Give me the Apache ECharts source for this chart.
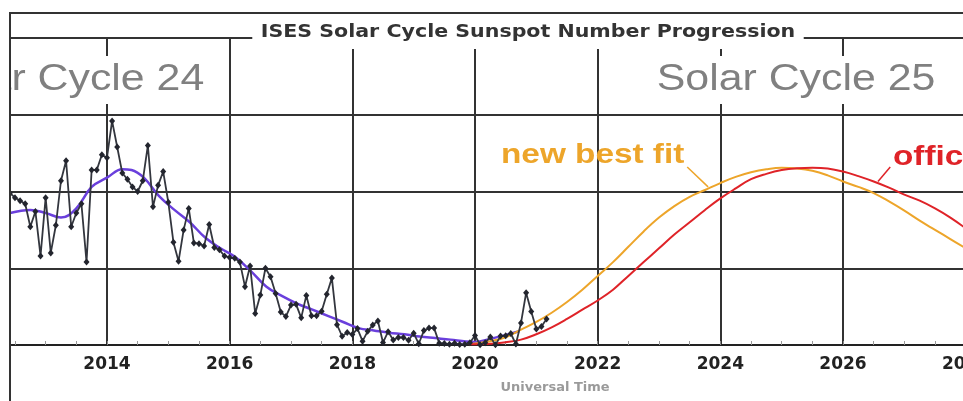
<!DOCTYPE html>
<html>
<head>
<meta charset="utf-8">
<title>ISES Solar Cycle Sunspot Number Progression</title>
<script src="https://cdn.jsdelivr.net/npm/echarts@6/dist/echarts.min.js"></script>
<style>
  html, body { margin: 0; padding: 0; background: #fff; }
  #chart { width: 963px; height: 401px; }
</style>
</head>
<body>
<div id="chart"></div>
<script>
// monthly mean sunspot number, one value per month starting June 2012
const monthlyStart = 2012 + 5 / 12
const monthlySSN = [
    99, 96, 94, 92, 77, 87, 58, // 2012 Jun-Dec
    96, 60, 78, 107, 120, 77, 86, 92, 54, 114, 114, 124, // 2013
    122, 146, 129, 112, 108, 103, 100, 107, 130, 90, 104, 113, // 2014
    93, 67, 54.5, 75, 89, 66.5, 66, 64.5, 78.5, 63.5, 62, 58, // 2015
    57, 56.5, 54, 38, 51.5, 20.5, 32.5, 50, 44.5, 33.5, 21.5, 18.5, // 2016
    26, 26.5, 17.7, 32.3, 19, 19, 22, 33, 43.6, 13.2, 5.7, 8.2, // 2017
    6.8, 10.7, 2.5, 8.9, 13.1, 15.6, 1.6, 8.7, 3.3, 4.9, 4.9, 3.1, // 2018
    7.7, 0.8, 9.4, 11, 11, 1.2, 0.9, 0.5, 1.1, 0.4, 0.5, 1.5, // 2019
    6.2, 0.2, 1.5, 5.2, 0.2, 5.8, 6.1, 7.5, 0.6, 14.4, 34, 21.8, // 2020
    10.4, 12, 17 // 2021 Jan-Mar
]

// 13-month smoothed sunspot number
const smoothYears = [2012.42, 2012.75, 2013.0, 2013.25, 2013.5, 2013.75, 2014.0, 2014.25, 2014.4, 2014.6,
    2014.85, 2015.1, 2015.35, 2015.6, 2015.85, 2016.1, 2016.35, 2016.6, 2016.85, 2017.1, 2017.35, 2017.6,
    2017.85, 2018.1, 2018.35, 2018.6, 2018.85, 2019.1, 2019.35, 2019.6, 2019.85, 2020.0, 2020.25, 2020.5, 2020.72]
const smoothSSN = [86, 88, 86, 83, 89, 103, 109, 114.5, 114, 109,
    97, 88, 80, 70, 63, 57, 48, 38, 32, 27, 23, 19,
    15, 11, 9.5, 8, 7, 5.5, 4.5, 3.5, 2.3, 2, 4, 6.5, 9]

// Cycle 25 predictions (quarter-year points)
const predYears = [2019.9, 2020.25, 2020.5, 2020.75, 2021.0, 2021.25, 2021.5, 2021.75, 2022.0, 2022.25, 2022.5,
    2022.75, 2023.0, 2023.25, 2023.5, 2023.75, 2024.0, 2024.25, 2024.5, 2024.75, 2025.0, 2025.25, 2025.5,
    2025.75, 2026.0, 2026.25, 2026.5, 2026.75, 2027.0, 2027.25, 2027.5, 2027.75, 2028.0]
const bestFit = [0.5, 2.5, 5, 10, 15, 21, 28, 36, 45, 54, 64,
    74, 83, 90.5, 96.5, 101, 105.5, 109.5, 112.5, 114.5, 115.5, 115, 113.5,
    110.5, 106.5, 103, 99, 93.5, 87.5, 81, 75, 69, 63]
const official = [0.5, 0.8, 1.8, 3.5, 7, 11.5, 17, 23, 29, 36, 45,
    54, 63, 72, 80, 88, 95.5, 102, 108, 111.5, 114, 115.2, 115.5,
    115, 113, 110, 106.5, 102.5, 98, 94, 89, 83, 76]

const xTicks = [2012, 2028, 2]
const yTicks = [0, 200, 50]

const chart = echarts.init(document.getElementById('chart'))

const monthlyData = monthlySSN.map((v, i) => [monthlyStart + i / 12, v])
const smoothData = smoothYears.map((y, i) => [y, smoothSSN[i]])
const fitData = predYears.map((y, i) => [y, bestFit[i]])
const officialData = predYears.map((y, i) => [y, official[i]])

const gridColor = '#333'
const orange = '#eda52a'
const red = '#df2328'
const purple = '#6a3fdc'

const option = {
    backgroundColor: '#fff',
    animation: false,
    grid: {
        left: -15.7,
        right: -2.7,
        top: 38,
        bottom: 56,
        containLabel: false,
        outerBoundsMode: 'none'
    },
    xAxis: {
        type: 'value',
        min: xTicks[0],
        max: xTicks[1],
        interval: xTicks[2],
        axisLine: { show: true, onZero: false, lineStyle: { color: '#222', width: 2 } },
        axisTick: { show: true, inside: true, length: 4, lineStyle: { color: '#888' } },
        minorTick: { show: true, splitNumber: 4, length: 4, lineStyle: { color: '#999' } },
        splitLine: { show: true, lineStyle: { color: gridColor, width: 2 } },
        axisLabel: {
            show: true,
            margin: 11,
            color: '#222',
            fontSize: 17,
            fontWeight: 'bold',
            fontFamily: 'DejaVu Sans',
            showMinLabel: true,
            showMaxLabel: true,
            formatter: v => String(v)
        }
    },
    yAxis: {
        type: 'value',
        min: yTicks[0],
        max: yTicks[1],
        interval: yTicks[2],
        axisLine: { show: false },
        axisTick: { show: false },
        axisLabel: { show: false },
        splitLine: { show: true, lineStyle: { color: gridColor, width: 2 } }
    },
    series: [
        {
            name: 'smoothed',
            type: 'line',
            data: smoothData,
            smooth: 0.4,
            showSymbol: false,
            lineStyle: { color: purple, width: 2.5 },
            z: 3
        },
        {
            name: 'new best fit',
            type: 'line',
            data: fitData,
            smooth: 0.4,
            showSymbol: false,
            lineStyle: { color: orange, width: 2 },
            z: 4,
            markLine: {
                silent: true,
                symbol: 'none',
                label: { show: false },
                lineStyle: { color: orange, width: 1.5, type: 'solid' },
                data: [[{ coord: [2023.46, 116] }, { coord: [2023.8, 103] }]]
            }
        },
        {
            name: 'official',
            type: 'line',
            data: officialData,
            smooth: 0.4,
            showSymbol: false,
            lineStyle: { color: red, width: 2 },
            z: 4,
            markLine: {
                silent: true,
                symbol: 'none',
                label: { show: false },
                lineStyle: { color: red, width: 1.5, type: 'solid' },
                data: [[{ coord: [2026.77, 116] }, { coord: [2026.57, 106.5] }]]
            }
        },
        {
            name: 'monthly',
            type: 'line',
            data: monthlyData,
            symbol: 'diamond',
            symbolSize: [6, 7],
            itemStyle: { color: '#23252e' },
            lineStyle: { color: '#33363e', width: 1.8 },
            z: 5
        }
    ],
    graphic: [
        {
            type: 'text',
            z: 100,
            x: 528,
            y: 33,
            scaleX: 1.21,
            style: {
                text: 'ISES Solar Cycle Sunspot Number Progression',
                font: 'bold 17px DejaVu Sans',
                fill: '#333',
                align: 'center',
                verticalAlign: 'middle',
                backgroundColor: '#fff',
                padding: [6, 7, 9, 7]
            }
        },
        {
            type: 'text',
            z: 100,
            x: 209,
            y: 80,
            scaleX: 1.19,
            style: {
                text: 'Solar Cycle 24',
                font: '36px Liberation Sans',
                fill: '#808080',
                align: 'right',
                verticalAlign: 'middle',
                backgroundColor: '#fff',
                padding: [6, 4]
            }
        },
        {
            type: 'text',
            z: 100,
            x: 652,
            y: 80,
            scaleX: 1.19,
            style: {
                text: 'Solar Cycle 25',
                font: '36px Liberation Sans',
                fill: '#808080',
                align: 'left',
                verticalAlign: 'middle',
                backgroundColor: '#fff',
                padding: [6, 4]
            }
        },
        {
            type: 'text',
            z: 100,
            x: 501,
            y: 155,
            scaleX: 1.19,
            style: {
                text: 'new best fit',
                font: 'bold 28px Liberation Sans',
                fill: orange,
                align: 'left',
                verticalAlign: 'middle'
            }
        },
        {
            type: 'text',
            z: 100,
            x: 893,
            y: 157,
            scaleX: 1.19,
            style: {
                text: 'official',
                font: 'bold 28px Liberation Sans',
                fill: red,
                align: 'left',
                verticalAlign: 'middle'
            }
        },
        {
            type: 'text',
            z: 100,
            x: 555,
            y: 388,
            style: {
                text: 'Universal Time',
                font: 'bold 13px DejaVu Sans',
                fill: '#9a9a9a',
                align: 'center',
                verticalAlign: 'middle'
            }
        },
        {
            // white margin left of the frame, above the cropped cycle label
            type: 'rect',
            z: 101,
            shape: { x: 0, y: 0, width: 9, height: 401 },
            style: { fill: '#fff' }
        },
        {
            // outer frame: top and left edges
            type: 'polyline',
            z: 102,
            shape: { points: [[10, 401], [10, 13], [963, 13]] },
            style: { stroke: '#333', lineWidth: 2, fill: null }
        }
    ]
}

chart.setOption(option)
</script>
</body>
</html>
